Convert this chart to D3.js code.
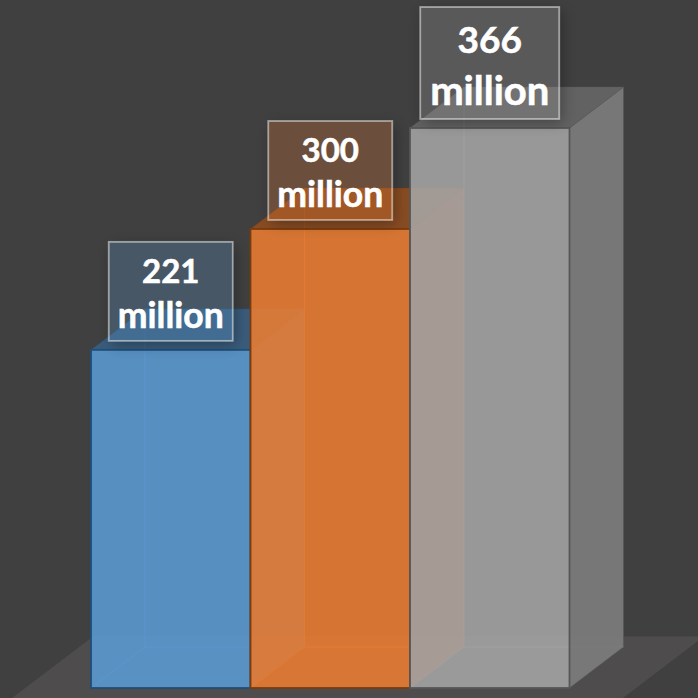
<!DOCTYPE html>
<html>
<head>
<meta charset="utf-8">
<script src="https://cdnjs.cloudflare.com/ajax/libs/d3/7.8.5/d3.min.js"></script>
<style>
html,body{margin:0;padding:0;background:#404040;overflow:hidden}
svg{display:block}
text{font-family:Lato,"Open Sans",sans-serif;font-weight:700;fill:#fff;stroke:#fff;stroke-width:.55px;text-anchor:middle}
</style>
</head>
<body>
<svg id="chart" width="698" height="698"></svg>
<script>
// Chart data
const categories = ["A", "B", "C"];
const values = [221, 300, 366];
const valueLabels = ["221 million", "300 million", "366 million"];
const seriesColors = ["#5b9bd5", "#ed7d31", "#a5a5a5"];
const edgeColors = ["#1f4e79", "#7a3b0e", "#575757"];

const W = 698, H = 698;
const svg = d3.select("#chart");
const defs = svg.append("defs");

// Soft shadow that only falls outside the label box
const sh = defs.append("filter").attr("id", "boxShadow")
  .attr("x", "-30%").attr("y", "-30%").attr("width", "160%").attr("height", "160%");
sh.append("feGaussianBlur").attr("in", "SourceAlpha").attr("stdDeviation", 7).attr("result", "b");
sh.append("feOffset").attr("in", "b").attr("dx", 3).attr("dy", 4).attr("result", "o");
sh.append("feComposite").attr("in", "o").attr("in2", "SourceAlpha").attr("operator", "out");

const x = d3.scaleBand().domain(categories).range([91, 569.5]).padding(0);
const y = d3.scaleLinear().domain([0, 366]).range([688, 128]);

// Oblique projection offset of the 3D column depth
const DX = 54, DY = -41;
const base = y(0);
const path = pts => "M" + pts.map(p => p.join(",")).join("L") + "Z";

svg.append("rect").attr("width", W).attr("height", H).attr("fill", "#404040");

// Chart floor, running off the bottom of the plot
const floorBack = 636.5, floorFront = H + 10;
const fdx = (floorFront - floorBack) * DX / -DY;
svg.append("path").attr("fill", "#4e4c4c").attr("d", path([
  [93, floorBack],
  [W + 6, floorBack],
  [W + 6 - fdx, floorFront],
  [93 - fdx, floorFront]
]));

// Columns, painted left to right so later ones overlap the depth of earlier ones
categories.forEach((c, i) => {
  const x0 = x(c), x1 = x0 + x.bandwidth(), t = y(values[i]);
  const col = seriesColors[i], edge = edgeColors[i];
  const g = svg.append("g");
  const bd = d3.color(col).darker(1.3).formatHex();
  const sd = d3.color(col).darker(0.85).formatHex();

  // hidden inner edges of the box
  g.append("path").attr("fill", "none").attr("stroke", col).attr("stroke-opacity", 0.55).attr("stroke-width", 1)
    .attr("d", `M${x0 + DX},${t + DY}V${base + DY}H${x1 + DX}M${x0 + DX},${base + DY}L${x0},${base}`);

  // right side
  g.append("path").attr("fill", sd).attr("fill-opacity", 0.95)
    .attr("stroke", edge).attr("stroke-opacity", 0.6)
    .attr("d", path([[x1, t], [x1 + DX, t + DY], [x1 + DX, base + DY], [x1, base]]));

  // top
  g.append("path").attr("fill", bd).attr("fill-opacity", 0.85)
    .attr("stroke", edge).attr("stroke-opacity", 0.35)
    .attr("d", path([[x0, t], [x0 + DX, t + DY], [x1 + DX, t + DY], [x1, t]]));

  // front
  g.append("rect").attr("x", x0).attr("y", t).attr("width", x1 - x0).attr("height", base - t)
    .attr("fill", col).attr("fill-opacity", 0.87)
    .attr("stroke", edge).attr("stroke-width", 1.8);
});

// Value callouts above each column
categories.forEach((c, i) => {
  const big = values[i] === d3.max(values);
  const bw = big ? 139 : 124, bh = big ? 112 : 99;
  const numSize = big ? 37 : 33, wordSize = big ? 40 : 35.5;
  const cx = x(c) + x.bandwidth() / 2;
  const bottom = y(values[i]) - 9, top = bottom - bh;
  const g = svg.append("g");
  g.append("rect").attr("x", cx - bw / 2).attr("y", top).attr("width", bw).attr("height", bh)
    .attr("fill", "#000").attr("filter", "url(#boxShadow)").attr("opacity", 0.3);
  g.append("rect").attr("x", cx - bw / 2).attr("y", top).attr("width", bw).attr("height", bh)
    .attr("fill", seriesColors[i]).attr("fill-opacity", 0.25)
    .attr("stroke", "#fff").attr("stroke-opacity", 0.5).attr("stroke-width", 1.8);
  const [num, word] = valueLabels[i].split(" ");
  const lh = big ? 52 : 45.5;
  const b1 = bottom - (big ? 66 : 58);
  g.append("text").attr("x", cx).attr("y", b1).attr("font-size", numSize).text(num);
  g.append("text").attr("x", cx).attr("y", b1 + lh).attr("font-size", wordSize).text(word);
});
</script>
</body>
</html>
